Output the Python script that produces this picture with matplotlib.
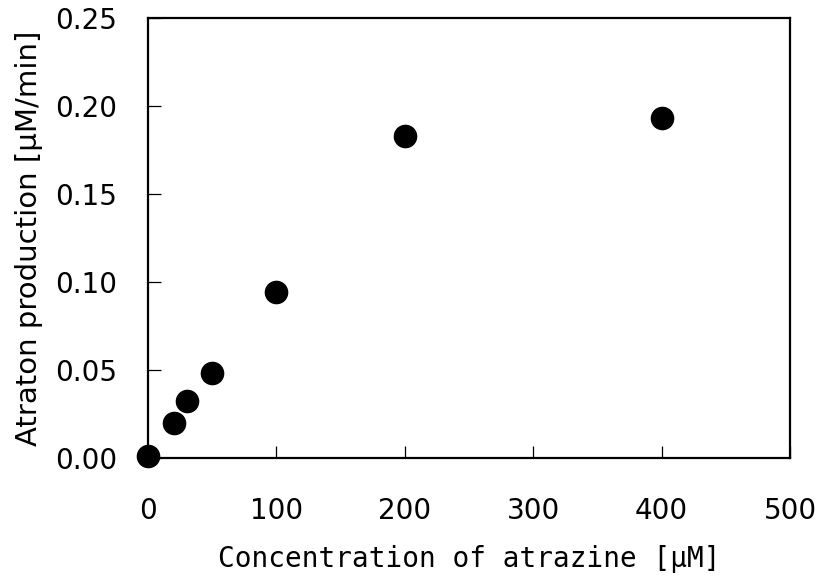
import matplotlib
matplotlib.use("Agg")
import matplotlib.pyplot as plt

plt.rcParams['font.family'] = ['DejaVu Sans', 'Noto Sans CJK JP']

concentration = [0, 20, 30, 50, 100, 200, 400]
production = [0.001, 0.020, 0.032, 0.048, 0.094, 0.183, 0.193]
x_ticks = [0, 100, 200, 300, 400, 500]
y_ticks = [0.00, 0.05, 0.10, 0.15, 0.20, 0.25]
x_label = "Concentration of atrazine [μM]"
y_label = "Atraton production [μM/min]"

fig = plt.figure(figsize=(8.2, 5.8), dpi=100)
ax = fig.add_axes([0.1805, 0.2109, 0.9634 - 0.1805, 0.969 - 0.2109])

ax.plot(concentration, production, linestyle='none', marker='o', markersize=16,
        color='black', clip_on=False, zorder=5)

ax.set_xlim(0, 500)
ax.set_ylim(0, 0.25)
ax.set_xticks(x_ticks)
ax.set_yticks(y_ticks)
ax.set_xticklabels([str(t) for t in x_ticks])
ax.set_yticklabels([f"{t:.2f}" for t in y_ticks])

for s in ax.spines.values():
    s.set_linewidth(1.6)
    s.set_color('black')

ax.tick_params(direction='in', length=9, width=0.9, labelsize=20,
               top=False, right=False)
ax.tick_params(axis='x', pad=28)
ax.tick_params(axis='y', pad=22)

mono = ['DejaVu Sans Mono', 'Noto Sans CJK JP']
ax.set_xlabel(x_label, fontsize=20, labelpad=15, family=mono)
ax.set_ylabel(y_label, fontsize=21, labelpad=9)

fig.savefig("out.png", dpi=100, facecolor='white')
